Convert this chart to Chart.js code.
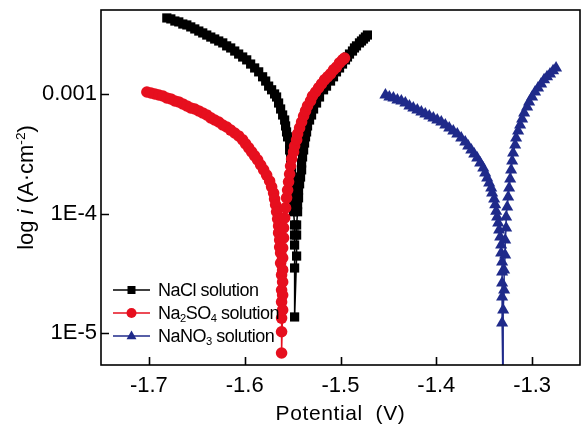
<!DOCTYPE html>
<html>
<head>
<meta charset="utf-8">
<script src="https://cdn.jsdelivr.net/npm/chart.js@4/dist/chart.umd.min.js"></script>
<style>
  html, body { margin: 0; padding: 0; background: #fff; }
  canvas { display: block; }
</style>
</head>
<body>
<canvas id="tafel" width="582" height="425"></canvas>
<script>
// Potential (V) and current density (A/cm2), per solution
const naclE = [
  -1.6813, -1.6771, -1.6729, -1.6688, -1.6646, -1.6604, -1.6563, -1.6521, -1.6479, -1.6438,
  -1.6396, -1.6354, -1.6313, -1.6271, -1.6229, -1.6188, -1.6146, -1.6104, -1.6063, -1.6021,
  -1.5979, -1.5938, -1.5896, -1.5854, -1.5813, -1.5781, -1.5750, -1.5719, -1.5688, -1.5667,
  -1.5646, -1.5625, -1.5604, -1.5583, -1.5573, -1.5563, -1.5552, -1.5531, -1.5531, -1.5521,
  -1.5521, -1.5510, -1.5510, -1.5500, -1.5500, -1.5490, -1.5490, -1.5490, -1.5479, -1.5479,
  -1.5479, -1.5479, -1.5479,
  -1.5458, -1.5458, -1.5458, -1.5448, -1.5448, -1.5438, -1.5438, -1.5427, -1.5417, -1.5406,
  -1.5406, -1.5396, -1.5385, -1.5375, -1.5365, -1.5354, -1.5344, -1.5323, -1.5302, -1.5281,
  -1.5250, -1.5219, -1.5177, -1.5146, -1.5104, -1.5073, -1.5042, -1.5010, -1.4979, -1.4948,
  -1.4927, -1.4906, -1.4875, -1.4854, -1.4833, -1.4802, -1.4781, -1.4760, -1.4740, -1.4719
];
const naclI = [
  4.35e-3, 4.27e-3, 4.10e-3, 4.03e-3, 3.87e-3, 3.80e-3, 3.66e-3, 3.52e-3, 3.38e-3, 3.26e-3,
  3.13e-3, 3.01e-3, 2.90e-3, 2.79e-3, 2.69e-3, 2.54e-3, 2.44e-3, 2.30e-3, 2.17e-3, 2.05e-3,
  1.94e-3, 1.79e-3, 1.66e-3, 1.54e-3, 1.40e-3, 1.29e-3, 1.17e-3, 1.09e-3, 1.006e-3, 9.49e-4,
  8.45e-4, 7.53e-4, 6.71e-4, 6.09e-4, 5.43e-4, 4.84e-4, 4.40e-4, 3.91e-4, 3.42e-4, 2.99e-4,
  2.66e-4, 2.33e-4, 2.03e-4, 1.78e-4, 1.58e-4, 1.36e-4, 1.19e-4, 1.04e-4, 8.06e-5, 6.64e-5,
  5.48e-5, 3.52e-5, 1.37e-5,
  4.43e-5, 6.64e-5, 8.06e-5, 1.04e-4, 1.19e-4, 1.36e-4, 1.58e-4, 1.78e-4, 2.03e-4, 2.33e-4,
  2.66e-4, 2.99e-4, 3.42e-4, 3.91e-4, 4.40e-4, 4.84e-4, 5.43e-4, 6.09e-4, 6.71e-4, 7.53e-4,
  8.45e-4, 9.49e-4, 1.09e-3, 1.17e-3, 1.29e-3, 1.40e-3, 1.54e-3, 1.66e-3, 1.79e-3, 1.94e-3,
  2.05e-3, 2.17e-3, 2.30e-3, 2.44e-3, 2.54e-3, 2.69e-3, 2.79e-3, 2.90e-3, 3.01e-3, 3.13e-3
];

const na2so4E = [
  -1.7021, -1.6979, -1.6938, -1.6896, -1.6854, -1.6813, -1.6771, -1.6729, -1.6688, -1.6646,
  -1.6604, -1.6563, -1.6521, -1.6479, -1.6438, -1.6396, -1.6354, -1.6313, -1.6271, -1.6229,
  -1.6188, -1.6146, -1.6104, -1.6063, -1.6021, -1.5990, -1.5958, -1.5927, -1.5896, -1.5865,
  -1.5833, -1.5802, -1.5771, -1.5740, -1.5719, -1.5698, -1.5688, -1.5677, -1.5667, -1.5656,
  -1.5646, -1.5646, -1.5635, -1.5635, -1.5625, -1.5625, -1.5615, -1.5615, -1.5615, -1.5615,
  -1.5615, -1.5615,
  -1.5604, -1.5604, -1.5604, -1.5604, -1.5604, -1.5604, -1.5594, -1.5594, -1.5583, -1.5573,
  -1.5563, -1.5552, -1.5542, -1.5531, -1.5521, -1.5510, -1.5490, -1.5479, -1.5458, -1.5448,
  -1.5427, -1.5406, -1.5385, -1.5365, -1.5344, -1.5313, -1.5292, -1.5260, -1.5229, -1.5198,
  -1.5167, -1.5135, -1.5104, -1.5073, -1.5042, -1.5010, -1.4979, -1.4958
];
const na2so4I = [
  1.045e-3, 1.025e-3, 1.006e-3, 9.86e-4, 9.67e-4, 9.31e-4, 9.14e-4, 8.79e-4, 8.62e-4, 8.30e-4,
  7.98e-4, 7.68e-4, 7.53e-4, 7.25e-4, 6.98e-4, 6.71e-4, 6.34e-4, 6.09e-4, 5.86e-4, 5.53e-4,
  5.32e-4, 5.02e-4, 4.74e-4, 4.48e-4, 4.15e-4, 3.84e-4, 3.56e-4, 3.29e-4, 3.05e-4, 2.82e-4,
  2.56e-4, 2.33e-4, 2.11e-4, 1.88e-4, 1.68e-4, 1.49e-4, 1.33e-4, 1.19e-4, 1.04e-4, 9.05e-5,
  7.91e-5, 6.91e-5, 6.04e-5, 5.27e-5, 4.70e-5, 3.87e-5, 3.08e-5, 2.30e-5, 1.83e-5, 1.34e-5,
  1.03e-5, 6.84e-6,
  1.57e-5, 2.09e-5, 2.69e-5, 3.39e-5, 4.27e-5, 5.18e-5, 6.28e-5, 7.62e-5, 9.23e-5, 1.12e-4,
  1.36e-4, 1.58e-4, 1.85e-4, 2.15e-4, 2.51e-4, 2.88e-4, 3.29e-4, 3.69e-4, 4.15e-4, 4.66e-4,
  5.23e-4, 5.86e-4, 6.58e-4, 7.25e-4, 7.98e-4, 8.79e-4, 9.67e-4, 1.045e-3, 1.13e-3, 1.22e-3,
  1.32e-3, 1.40e-3, 1.48e-3, 1.60e-3, 1.69e-3, 1.83e-3, 1.94e-3, 2.01e-3
];

const nano3E = [
  -1.4531, -1.4490, -1.4448, -1.4406, -1.4365, -1.4323, -1.4281, -1.4240, -1.4198, -1.4156,
  -1.4115, -1.4073, -1.4031, -1.3990, -1.3948, -1.3906, -1.3865, -1.3823, -1.3781, -1.3740,
  -1.3698, -1.3667, -1.3635, -1.3604, -1.3573, -1.3542, -1.3510, -1.3490, -1.3469, -1.3448,
  -1.3427, -1.3417, -1.3396, -1.3385, -1.3375, -1.3365, -1.3354, -1.3344, -1.3333, -1.3323,
  -1.3323, -1.3313, -1.3313, -1.3313, -1.3313, -1.3313, -1.3302,
  -1.3302, -1.3292, -1.3292, -1.3281, -1.3281, -1.3271, -1.3271, -1.3260, -1.3250, -1.3240,
  -1.3229, -1.3219, -1.3208, -1.3198, -1.3177, -1.3167, -1.3146, -1.3125, -1.3104, -1.3083,
  -1.3052, -1.3031, -1.3000, -1.2969, -1.2938, -1.2906, -1.2875, -1.2844, -1.2813, -1.2781,
  -1.2750
];
const nano3I = [
  9.86e-4, 9.49e-4, 9.31e-4, 8.96e-4, 8.79e-4, 8.45e-4, 7.98e-4, 7.68e-4, 7.39e-4, 7.11e-4,
  6.84e-4, 6.58e-4, 6.34e-4, 6.09e-4, 5.86e-4, 5.53e-4, 5.23e-4, 4.93e-4, 4.66e-4, 4.31e-4,
  3.99e-4, 3.69e-4, 3.42e-4, 3.16e-4, 2.93e-4, 2.66e-4, 2.42e-4, 2.19e-4, 1.99e-4, 1.81e-4,
  1.64e-4, 1.49e-4, 1.33e-4, 1.19e-4, 1.05e-4, 9.39e-5, 8.37e-5, 7.31e-5, 6.39e-5, 5.48e-5,
  4.70e-5, 3.95e-5, 3.26e-5, 2.64e-5, 2.01e-5, 1.22e-5, 2.77e-6,
  1.57e-5, 2.30e-5, 3.39e-5, 4.52e-5, 6.04e-5, 7.60e-5, 9.39e-5, 1.14e-4, 1.38e-4, 1.64e-4,
  1.95e-4, 2.33e-4, 2.77e-4, 3.23e-4, 3.77e-4, 4.31e-4, 4.93e-4, 5.53e-4, 6.21e-4, 6.98e-4,
  7.83e-4, 8.62e-4, 9.49e-4, 1.045e-3, 1.13e-3, 1.22e-3, 1.32e-3, 1.40e-3, 1.48e-3, 1.57e-3,
  1.66e-3
];

const seriesNames = ['NaCl solution', 'Na2SO4 solution', 'NaNO3 solution'];
const seriesColors = ['#000000', '#e60f1e', '#1f2a8a'];
const xTicks = [-1.7, -1.6, -1.5, -1.4, -1.3];
const yTicks = [1e-5, 1e-4, 1e-3];
const yTickLabels = ['1E-5', '1E-4', '0.001'];

const FONT = "'Liberation Sans', Arial, sans-serif";

function toPoints(xs, ys) {
  return xs.map((v, i) => ({ x: v, y: ys[i] }));
}

// text with subscript digits (Na2SO4) or a superscript tail
function richText(ctx, parts, x, y, size) {
  let cx = x;
  parts.forEach(p => {
    const s = p.small ? size * 0.62 : size;
    ctx.font = (p.italic ? 'italic ' : '') + s + 'px ' + FONT;
    const dy = p.sub ? size * 0.28 : (p.sup ? -size * 0.38 : 0);
    ctx.fillText(p.t, cx, y + dy);
    cx += ctx.measureText(p.t).width;
  });
  return cx - x;
}
function measureRich(ctx, parts, size) {
  let w = 0;
  parts.forEach(p => {
    const s = p.small ? size * 0.62 : size;
    ctx.font = (p.italic ? 'italic ' : '') + s + 'px ' + FONT;
    w += ctx.measureText(p.t).width;
  });
  return w;
}
function chemParts(label) {
  return label.split(/(\d)/).filter(s => s).map(s =>
    /\d/.test(s) ? { t: s, small: true, sub: true } : { t: s });
}

function marker(ctx, style, x, y, r) {
  ctx.beginPath();
  if (style === 'rect') {
    ctx.rect(x - r, y - r, 2 * r, 2 * r);
  } else if (style === 'circle') {
    ctx.arc(x, y, r, 0, Math.PI * 2);
  } else {
    ctx.moveTo(x, y - r);
    ctx.lineTo(x + r * 0.9, y + r * 0.6);
    ctx.lineTo(x - r * 0.9, y + r * 0.6);
    ctx.closePath();
  }
  ctx.fill();
}

const decorPlugin = {
  id: 'decor',
  afterDraw(chart) {
    const { ctx, chartArea: a, scales: { x, y } } = chart;
    ctx.save();
    ctx.strokeStyle = '#000';
    ctx.lineWidth = 1.6;
    ctx.strokeRect(a.left, a.top, a.right - a.left, a.bottom - a.top);

    // inward tick marks
    ctx.beginPath();
    x.ticks.forEach(t => {
      const px = Math.round(x.getPixelForValue(t.value)) + 0.5;
      ctx.moveTo(px, a.bottom);
      ctx.lineTo(px, a.bottom - 8);
    });
    y.ticks.forEach(t => {
      const py = Math.round(y.getPixelForValue(t.value)) + 0.5;
      ctx.moveTo(a.left, py);
      ctx.lineTo(a.left + 8, py);
    });
    ctx.stroke();

    // legend, lower left inside the plot
    const styles = ['rect', 'circle', 'triangle'];
    const sizes = [4, 5, 5.5];
    const rows = [290, 313, 336];
    ctx.textBaseline = 'middle';
    ctx.textAlign = 'left';
    seriesNames.forEach((name, i) => {
      const ry = rows[i];
      ctx.strokeStyle = seriesColors[i];
      ctx.fillStyle = seriesColors[i];
      ctx.lineWidth = 1.5;
      ctx.beginPath();
      ctx.moveTo(113, ry);
      ctx.lineTo(150, ry);
      ctx.stroke();
      marker(ctx, styles[i], 131.5, ry, sizes[i]);
      ctx.fillStyle = '#000';
      ctx.letterSpacing = '-0.5px';
      richText(ctx, chemParts(name), 158, ry + 1, 18);
      ctx.letterSpacing = '0px';
    });

    // axis titles
    ctx.fillStyle = '#000';
    ctx.textBaseline = 'alphabetic';
    ctx.font = '21px ' + FONT;
    ctx.letterSpacing = '0.6px';
    ctx.textAlign = 'center';
    ctx.fillText('Potential  (V)', (a.left + a.right) / 2, 420);
    ctx.letterSpacing = '0px';

    const yParts = [
      { t: 'log ' }, { t: 'i', italic: true }, { t: ' (A·cm' },
      { t: '-2', small: true, sup: true }, { t: ')' }
    ];
    ctx.textAlign = 'left';
    ctx.translate(33, (a.top + a.bottom) / 2);
    ctx.rotate(-Math.PI / 2);
    const w = measureRich(ctx, yParts, 22);
    richText(ctx, yParts, -w / 2, 0, 22);
    ctx.restore();
  }
};

const dsBase = { showLine: true, borderWidth: 1.5, pointBorderWidth: 0 };

new Chart(document.getElementById('tafel'), {
  type: 'scatter',
  data: {
    datasets: [
      Object.assign({}, dsBase, {
        label: seriesNames[0], data: toPoints(naclE, naclI), order: 1,
        borderColor: seriesColors[0], backgroundColor: seriesColors[0],
        pointStyle: 'rect', pointRadius: 6.5
      }),
      Object.assign({}, dsBase, {
        label: seriesNames[1], data: toPoints(na2so4E, na2so4I), order: 0,
        borderColor: seriesColors[1], backgroundColor: seriesColors[1],
        pointStyle: 'circle', pointRadius: 5.8
      }),
      Object.assign({}, dsBase, {
        label: seriesNames[2], data: toPoints(nano3E, nano3I), order: 2,
        borderColor: seriesColors[2], backgroundColor: seriesColors[2],
        pointStyle: 'triangle', pointRadius: 7
      })
    ]
  },
  options: {
    responsive: false,
    animation: false,
    devicePixelRatio: 1,
    layout: { autoPadding: false, padding: { top: 10, right: 2, left: 0, bottom: 0 } },
    plugins: {
      legend: { display: false },
      tooltip: { enabled: false }
    },
    scales: {
      x: {
        type: 'linear',
        min: -1.75,
        max: -1.25,
        afterBuildTicks: scale => { scale.ticks = xTicks.map(v => ({ value: v })); },
        afterFit: scale => {
          scale.height = 60;
          scale.paddingLeft = 0;
          scale.paddingRight = 0;
        },
        grid: { display: false, drawTicks: false },
        border: { display: false },
        ticks: {
          color: '#000',
          padding: 8,
          font: { family: FONT, size: 22 },
          callback: v => String(Math.round(v * 10) / 10)
        }
      },
      y: {
        type: 'logarithmic',
        min: 5.43e-6,
        max: 5.07e-3,
        afterBuildTicks: scale => { scale.ticks = yTicks.map(v => ({ value: v })); },
        afterFit: scale => {
          scale.width = 101;
          scale.paddingTop = 0;
          scale.paddingBottom = 0;
        },
        grid: { display: false, drawTicks: false },
        border: { display: false },
        ticks: {
          color: '#000',
          padding: 4,
          font: { family: FONT, size: 22 },
          callback: (v, i) => yTickLabels[i]
        }
      }
    }
  },
  plugins: [decorPlugin]
});
</script>
</body>
</html>
